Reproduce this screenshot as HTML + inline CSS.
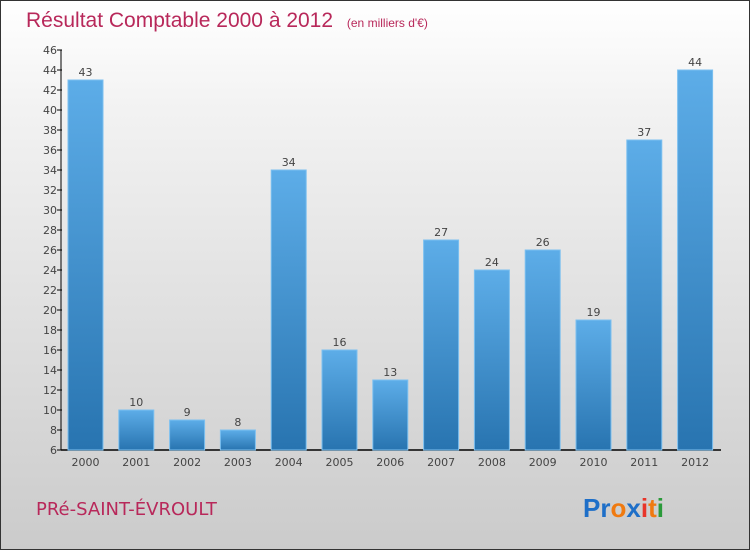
<!DOCTYPE html>
<html><head><meta charset="utf-8"><style>
body{margin:0}
#wrap{position:relative;width:748px;height:548px;border:1px solid #333;background:linear-gradient(#fff,#f2f2f2 20%,#cbcbcb);font-family:"DejaVu Sans","Liberation Sans",sans-serif;overflow:hidden}
</style></head><body>
<div id="wrap">
<svg id="chart" width="748" height="548">
<defs><linearGradient id="g" x1="0" y1="0" x2="0" y2="1"><stop offset="0" stop-color="#5dade8"/><stop offset="1" stop-color="#2874b0"/></linearGradient></defs>
<text x="25" y="26" font-size="21" fill="#b8285a" font-family="'Liberation Sans',sans-serif">Résultat Comptable 2000 à 2012 <tspan font-size="12" dx="8">(en milliers d'€)</tspan></text>
<text x="35" y="514" font-size="18" fill="#b8285a">PRé-SAINT-ÉVROULT</text>
<g font-size="26" font-weight="bold" font-family="'Liberation Sans',sans-serif"><text x="582" y="516"><tspan fill="#1e6fc8">Pr</tspan><tspan fill="#f07a10">o</tspan><tspan fill="#1e6fc8">x</tspan><tspan fill="#e8352a">i</tspan><tspan fill="#f07a10">t</tspan><tspan fill="#2a9a3a">i</tspan></text></g>
<g id="axes"></g><g id="bars"></g>
</svg></div>
<script>
const years=["2000","2001","2002","2003","2004","2005","2006","2007","2008","2009","2010","2011","2012"];
const values=[43,10,9,8,34,16,13,27,24,26,19,37,44];
const yTicks=[6,8,10,12,14,16,18,20,22,24,26,28,30,32,34,36,38,40,42,44,46];
const NS="http://www.w3.org/2000/svg";
const y0=449,yMin=6,yMax=46,pxU=10,xL=60,xR=720;
const y=v=>y0-(v-yMin)*pxU;
const xc=i=>84.5+i*50.8;
function mk(t,a,p){const e=document.createElementNS(NS,t);for(const k in a)e.setAttribute(k,a[k]);p.appendChild(e);return e;}
const ax=document.getElementById('axes'),bs=document.getElementById('bars');
const yl=mk('line',{x1:xL,y1:y(yMax),x2:xL,y2:y0,stroke:'#000'},ax);


const xl=mk('line',{x1:xL,y1:y0,x2:xR,y2:y0,stroke:'#000','stroke-width':1.5},ax);


yTicks.forEach(v=>{
 mk('line',{x1:xL-4,y1:y(v),x2:xL+1,y2:y(v),stroke:'#000'},ax);
 const t=mk('text',{x:xL-4,y:y(v)+4,'text-anchor':'end','font-size':11,fill:'#444'},ax);
 t.textContent=v;
 
 
});
years.forEach((yr,i)=>{
 const v=values[i],x=xc(i);
 const r=mk('rect',{x:x-17.5,y:y(v),width:35,height:y0-y(v),fill:'url(#g)',stroke:'#7cc0f0','stroke-width':1},bs);
 
 
 const t=mk('text',{x:x,y:y(v)-4,'text-anchor':'middle','font-size':11,fill:'#444'},bs);
 t.textContent=v;
 
 
 const l=mk('text',{x:x,y:y0+16,'text-anchor':'middle','font-size':11,fill:'#444'},bs);
 l.textContent=yr;
 
 
});
</script>
</body></html>
